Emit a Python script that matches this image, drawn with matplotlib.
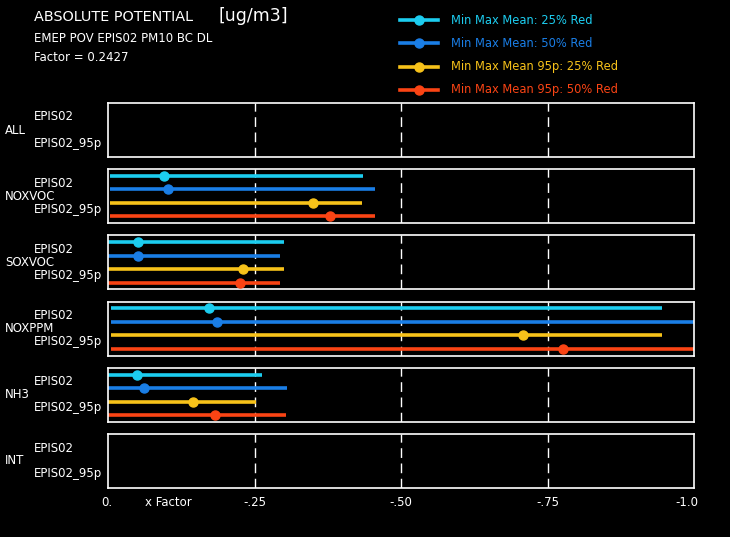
import matplotlib
matplotlib.use("Agg")
import matplotlib.pyplot as plt
from matplotlib.lines import Line2D

# emission reduction scenarios, one panel each
panels = ["ALL", "NOXVOC", "SOXVOC", "NOXPPM", "NH3", "INT"]
series = ["Min Max Mean: 25% Red", "Min Max Mean: 50% Red",
          "Min Max Mean 95p: 25% Red", "Min Max Mean 95p: 50% Red"]
colors = ["#1ccdf0", "#1a7ee6", "#f7c21a", "#fa4414"]

# min / max / mean of each series; panels missing here have no data
mins = {
    "NOXVOC": [-0.003, -0.003, -0.003, -0.003],
    "SOXVOC": [0.0, 0.0, 0.0, 0.0],
    "NOXPPM": [-0.005, -0.005, -0.005, -0.005],
    "NH3": [0.0, 0.0, 0.0, 0.0],
}
maxs = {
    "NOXVOC": [-0.436, -0.456, -0.434, -0.456],
    "SOXVOC": [-0.300, -0.293, -0.300, -0.293],
    "NOXPPM": [-0.945, -1.02, -0.945, -1.02],
    "NH3": [-0.262, -0.305, -0.252, -0.304],
}
means = {
    "NOXVOC": [-0.096, -0.103, -0.349, -0.379],
    "SOXVOC": [-0.051, -0.051, -0.231, -0.226],
    "NOXPPM": [-0.173, -0.186, -0.708, -0.776],
    "NH3": [-0.050, -0.061, -0.145, -0.183],
}
xticks = [0.0, -0.25, -0.50, -0.75, -1.0]
xticklabels = ["0.", "-.25", "-.50", "-.75", "-1.0"]

plt.rcParams["font.family"] = ["DejaVu Sans"]

fig = plt.figure(figsize=(7.3, 5.37), dpi=100, facecolor="black")
W, H = 730, 537
left, right = 108, 694
top0, step, ph = 103, 66.2, 54


def fx(px):
    return px / W


def fy(py):
    return 1 - py / H


for i, name in enumerate(panels):
    top = top0 + i * step
    ax = fig.add_axes([fx(left), fy(top + ph), (right - left) / W, ph / H])
    ax.set_facecolor("black")
    ax.set_xlim(0, -1.0)
    ax.set_ylim(4.5, 0.5)
    for s in ax.spines.values():
        s.set_color("white")
        s.set_linewidth(1.2)
    ax.set_xticks([])
    ax.set_yticks([])
    for xv in xticks[1:-1]:
        ax.axvline(xv, color="white", lw=1.0, ls=(0, (7, 4)), zorder=1)
    if name in means:
        for k in range(4):
            y = k + 1
            ax.plot([mins[name][k], maxs[name][k]], [y, y], color=colors[k],
                    lw=2.6, solid_capstyle="butt", zorder=2)
            ax.plot(means[name][k], y, "o", color=colors[k], ms=6.5, zorder=3)
    # row labels left of the panel
    fig.text(fx(34), fy(top + 14), "EPIS02", color="white", fontsize=8.5, va="center")
    fig.text(fx(34), fy(top + 40), "EPIS02_95p", color="white", fontsize=8.5, va="center")
    fig.text(fx(5), fy(top + 27), name, color="white", fontsize=8.5, va="center")

# x tick labels under the last panel
for xv, lab in zip(xticks, xticklabels):
    px = left + (right - left) * (-xv)
    ha = "center"
    if xv == 0.0:
        px -= 1
    if xv == -1.0:
        ha = "right"
        px += 4
    fig.text(fx(px), fy(503), lab, color="white", fontsize=8.5, ha=ha, va="center")
fig.text(fx(145), fy(503), "x Factor", color="white", fontsize=8.5, va="center")

# headings
fig.text(fx(34), fy(17), "ABSOLUTE POTENTIAL", color="white", fontsize=10.4,
         va="center")
fig.text(fx(219), fy(16), "[ug/m3]", color="white", fontsize=12.5, va="center")
fig.text(fx(34), fy(38), "EMEP POV EPIS02 PM10 BC DL", color="white",
         fontsize=8.5, va="center")
fig.text(fx(34), fy(57), "Factor = 0.2427", color="white", fontsize=8.5, va="center")

# hand-drawn legend
for k, lab in enumerate(series):
    yy = fy(20 + k * 23.3)
    fig.add_artist(Line2D([fx(400), fx(438)], [yy, yy], color=colors[k], lw=2.6))
    fig.add_artist(Line2D([fx(419)], [yy], marker="o", color=colors[k], ms=6.5))
    fig.text(fx(451), yy, lab, color=colors[k], fontsize=8.3, va="center")

fig.savefig("out.png", dpi=100, facecolor="black")
